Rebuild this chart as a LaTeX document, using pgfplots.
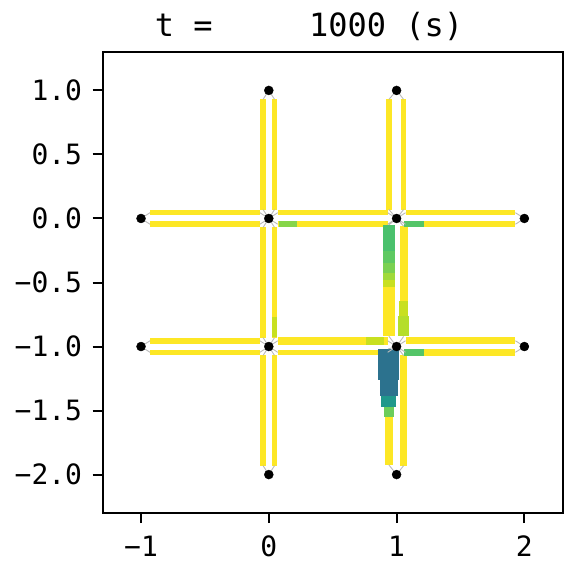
\documentclass[border=0pt]{standalone}
\usepackage{fontspec}
\setmonofont{DejaVu Sans Mono}
\usepackage{pgfplots}
\pgfplotsset{compat=1.18}
\definecolor{vY}{RGB}{253,231,37}
\definecolor{vGa}{RGB}{134,213,73}
\definecolor{vGb}{RGB}{84,197,104}
\definecolor{vYG}{RGB}{200,224,32}
\definecolor{vYGb}{RGB}{181,222,43}
\definecolor{vA}{RGB}{74,193,109}
\definecolor{vB}{RGB}{94,201,98}
\definecolor{vC}{RGB}{122,209,81}
\definecolor{vD}{RGB}{160,218,57}
\definecolor{vBlue}{RGB}{44,114,142}
\definecolor{vTeal}{RGB}{31,152,139}
\definecolor{vGr}{RGB}{108,205,90}
\pgfplotsset{
  seg/.style 2 args={mark=none, line cap=butt, color=#1, line width=#2},
  spk/.style={mark=none, color=gray!55, line width=0.9pt},
}
\begin{document}
\begin{tikzpicture}
\useasboundingbox (-102.7pt,-50pt) rectangle (462.3pt,513pt);
\begin{axis}[
  at={(0,0)}, anchor=south west, scale only axis,
  width=460pt, height=461pt,
  xmin=-1.3, xmax=2.3, ymin=-2.3, ymax=1.3,
  xtick={-1,0,1,2}, xticklabels={−1,0,1,2},
  ytick={-2,-1.5,-1,-0.5,0,0.5,1},
  yticklabels={−2.0,−1.5,−1.0,−0.5,0.0,0.5,1.0},
  tick align=outside, xtick pos=bottom, ytick pos=left,
  major tick length=10pt,
  tick style={black, line width=2pt},
  axis line style={line width=2pt},
  ticklabel style={font=\ttfamily\fontsize{28}{30}\selectfont, inner sep=0pt},
  xticklabel style={anchor=base, yshift=-33pt},
  yticklabel style={anchor=base east, xshift=-10.4pt, yshift=-10pt},
]
% ---- horizontal links, y = 0
\addplot[seg={vY}{5.5pt}] coordinates {(-0.93,0.045) (-0.07,0.045)};
\addplot[seg={vY}{5.5pt}] coordinates {(-0.93,-0.045) (-0.07,-0.045)};
\addplot[seg={vY}{5.5pt}] coordinates {(0.07,0.045) (0.93,0.045)};
\addplot[seg={vY}{5.5pt}] coordinates {(0.07,-0.045) (0.93,-0.045)};
\addplot[seg={vY}{5.5pt}] coordinates {(1.07,0.045) (1.93,0.045)};
\addplot[seg={vY}{5.5pt}] coordinates {(1.07,-0.045) (1.93,-0.045)};
% ---- horizontal links, y = -1
\addplot[seg={vY}{5.5pt}] coordinates {(-0.93,-0.955) (-0.07,-0.955)};
\addplot[seg={vY}{5.5pt}] coordinates {(-0.93,-1.045) (-0.07,-1.045)};
\addplot[seg={vY}{7.5pt}] coordinates {(0.07,-0.955) (0.93,-0.955)};
\addplot[seg={vY}{5.5pt}] coordinates {(0.07,-1.045) (0.93,-1.045)};
\addplot[seg={vY}{7pt}] coordinates {(1.07,-0.955) (1.93,-0.955)};
\addplot[seg={vY}{6.5pt}] coordinates {(1.07,-1.045) (1.93,-1.045)};
% ---- vertical links, x = 0
\addplot[seg={vY}{5.5pt}] coordinates {(-0.045,0.93) (-0.045,0.07)};
\addplot[seg={vY}{5.5pt}] coordinates {(0.045,0.93) (0.045,0.07)};
\addplot[seg={vY}{5.5pt}] coordinates {(-0.045,-0.07) (-0.045,-0.93)};
\addplot[seg={vY}{5.5pt}] coordinates {(0.045,-0.07) (0.045,-0.93)};
\addplot[seg={vY}{5.5pt}] coordinates {(-0.045,-1.07) (-0.045,-1.93)};
\addplot[seg={vY}{5.5pt}] coordinates {(0.045,-1.07) (0.045,-1.93)};
% ---- vertical links, x = 1
\addplot[seg={vY}{5.5pt}] coordinates {(0.94,0.93) (0.94,0.07)};
\addplot[seg={vY}{5.5pt}] coordinates {(1.055,0.93) (1.055,0.07)};
% link (1,0)-(1,-1), left lane
\addplot[seg={vA}{12.6pt}] coordinates {(0.94,-0.05) (0.94,-0.256)};
\addplot[seg={vB}{12.3pt}] coordinates {(0.94,-0.256) (0.94,-0.344)};
\addplot[seg={vC}{12pt}] coordinates {(0.94,-0.344) (0.94,-0.423)};
\addplot[seg={vD}{12pt}] coordinates {(0.94,-0.423) (0.94,-0.48)};
\addplot[seg={vYG}{11.8pt}] coordinates {(0.94,-0.48) (0.94,-0.535)};
\addplot[seg={vY}{11.5pt}] coordinates {(0.94,-0.535) (0.94,-0.92)};
% link (1,0)-(1,-1), right lane
\addplot[seg={vY}{8pt}] coordinates {(1.055,-0.06) (1.055,-0.647)};
\addplot[seg={vYG}{9.5pt}] coordinates {(1.055,-0.647) (1.055,-0.764)};
\addplot[seg={vYGb}{10.5pt}] coordinates {(1.055,-0.764) (1.055,-0.921)};
% link (1,-1)-(1,-2), left lane
\addplot[seg={vBlue}{21pt}] coordinates {(0.935,-1.018) (0.935,-1.26)};
\addplot[seg={vBlue}{18pt}] coordinates {(0.94,-1.26) (0.94,-1.39)};
\addplot[seg={vTeal}{15pt}] coordinates {(0.94,-1.39) (0.94,-1.469)};
\addplot[seg={vGr}{10.7pt}] coordinates {(0.94,-1.469) (0.94,-1.547)};
\addplot[seg={vY}{7.7pt}] coordinates {(0.94,-1.547) (0.94,-1.925)};
% link (1,-1)-(1,-2), right lane
\addplot[seg={vY}{6.7pt}] coordinates {(1.055,-1.07) (1.055,-1.93)};
% ---- coloured patches on other lanes
\addplot[seg={vGa}{5.5pt}] coordinates {(0.076,-0.045) (0.217,-0.045)};
\addplot[seg={vGb}{6.5pt}] coordinates {(1.061,-0.045) (1.217,-0.045)};
\addplot[seg={vGb}{6.5pt}] coordinates {(1.061,-1.045) (1.217,-1.045)};
\addplot[seg={vYG}{7.5pt}] coordinates {(0.764,-0.955) (0.905,-0.955)};
\addplot[seg={vYG}{5.5pt}] coordinates {(0.045,-0.767) (0.045,-0.923)};
% ---- junction connectors
\addplot[spk] coordinates {(0,0) (-0.07,0.045) (0,0) (-0.07,-0.045) (0,0) (0.07,0.045) (0,0) (0.07,-0.045) (0,0) (-0.045,0.07) (0,0) (0.045,0.07) (0,0) (-0.045,-0.07) (0,0) (0.045,-0.07) (0,0)};
\addplot[spk] coordinates {(1,0) (0.93,0.045) (1,0) (0.93,-0.045) (1,0) (1.07,0.045) (1,0) (1.07,-0.045) (1,0) (0.94,0.07) (1,0) (1.055,0.07) (1,0) (0.94,-0.05) (1,0) (1.055,-0.06) (1,0)};
\addplot[spk] coordinates {(0,-1) (-0.07,-0.955) (0,-1) (-0.07,-1.045) (0,-1) (0.07,-0.955) (0,-1) (0.07,-1.045) (0,-1) (-0.045,-0.93) (0,-1) (0.045,-0.93) (0,-1) (-0.045,-1.07) (0,-1) (0.045,-1.07) (0,-1)};
\addplot[spk] coordinates {(1,-1) (0.93,-0.955) (1,-1) (0.93,-1.045) (1,-1) (1.07,-0.955) (1,-1) (1.07,-1.045) (1,-1) (0.94,-0.92) (1,-1) (1.055,-0.921) (1,-1) (0.935,-1.018) (1,-1) (1.055,-1.07) (1,-1)};
\addplot[spk] coordinates {(-0.93,0.045) (-1,0) (-0.93,-0.045)};
\addplot[spk] coordinates {(1.93,0.045) (2,0) (1.93,-0.045)};
\addplot[spk] coordinates {(-0.93,-0.955) (-1,-1) (-0.93,-1.045)};
\addplot[spk] coordinates {(1.93,-0.955) (2,-1) (1.93,-1.045)};
\addplot[spk] coordinates {(-0.045,0.93) (0,1) (0.045,0.93)};
\addplot[spk] coordinates {(0.94,0.93) (1,1) (1.055,0.93)};
\addplot[spk] coordinates {(-0.045,-1.93) (0,-2) (0.045,-1.93)};
\addplot[spk] coordinates {(0.94,-1.925) (1,-2) (1.055,-1.93)};
% ---- nodes
\addplot[only marks, mark=*, mark size=4.5pt, black] coordinates {
  (-1,0) (0,0) (1,0) (2,0) (-1,-1) (0,-1) (1,-1) (2,-1) (0,1) (1,1) (0,-2) (1,-2)};
\end{axis}
\node[anchor=base west, inner sep=0pt, font=\ttfamily\fontsize{32}{36}\selectfont] at (52pt,476pt) {t =\ \ \ \ \ 1000 (s)};
\end{tikzpicture}
\end{document}
